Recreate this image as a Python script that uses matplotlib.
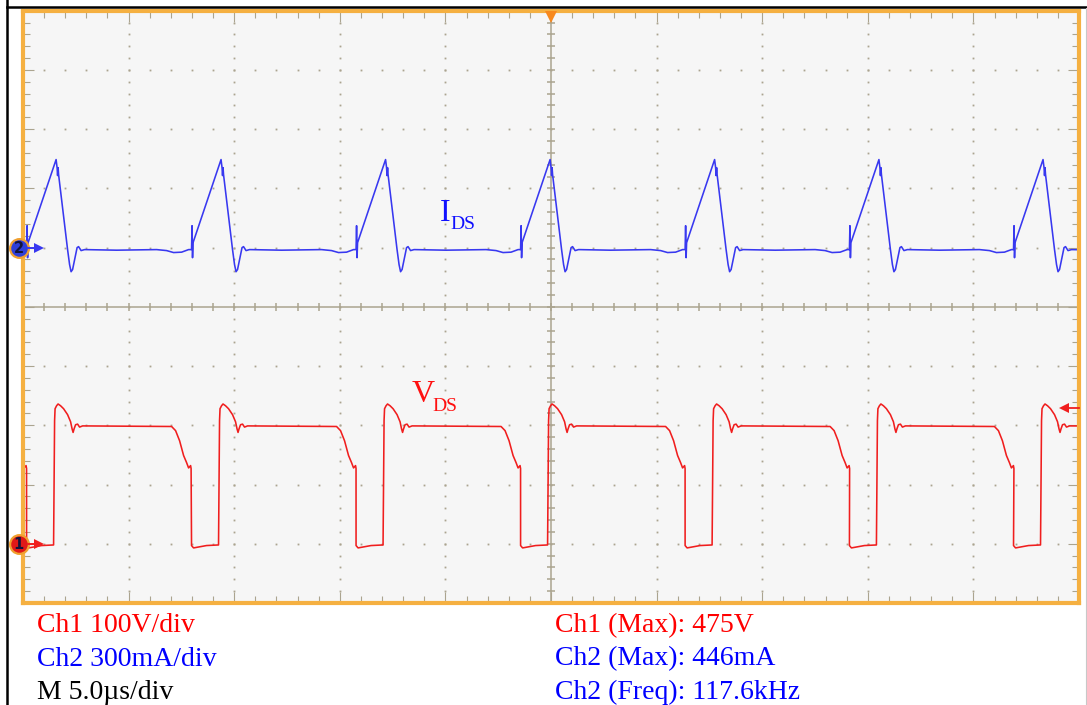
import numpy as np
import matplotlib.pyplot as plt
from matplotlib.lines import Line2D

# switching instants (V_DS falling edge / start of current ramp), microseconds
turn_on_us = [-7.62, 0.17, 7.98, 15.77, 23.56, 31.35, 39.13, 46.90]

# drain current over one period: time after turn-on (us) and current (mA)
ids_t_us = [0.000, 0.024, 0.047, 0.071, 1.397, 1.444, 1.468, 1.492, 1.515,
            1.941, 2.036, 2.107, 2.178, 2.296, 2.391, 2.462, 2.581, 2.746,
            4.262, 6.156, 6.629, 6.960, 7.339, 7.671]
ids_ma = [-10, 111, -51, 25, 446, 405, 365, 405, 370,
          -10, -86, -122, -111, -51, 0, 5, -15, -10,
          -13, -10, -15, -25, -23, -10]

# drain-source voltage over one period: time after turn-on (us), divisions above ch1 ground
vds_t_us = [0.000, 0.095, 0.710, 1.278, 1.326, 1.349, 1.420, 1.491, 1.610,
            1.752, 1.941, 2.083, 2.154, 2.202, 2.249, 2.320, 2.415, 2.509,
            2.652, 6.866, 7.055, 7.244, 7.434, 7.576, 7.671, 7.765, 7.789]
vds_div = [-0.03, -0.07, -0.03, -0.02, 2.08, 2.28, 2.33, 2.36, 2.33,
           2.28, 2.18, 2.06, 1.94, 1.88, 1.94, 2.01, 2.02, 1.97,
           1.99, 1.98, 1.91, 1.74, 1.49, 1.37, 1.28, 1.32, 1.27]

ch1_ground_div = -4
ch2_ground_div = 1
ch2_ma_per_div = 300

left_readouts = ["Ch1 100V/div", "Ch2 300mA/div", "M 5.0\u00b5s/div"]
right_readouts = ["Ch1 (Max): 475V", "Ch2 (Max): 446mA", "Ch2 (Freq): 117.6kHz"]
left_colors = ["#ff0000", "#0000ff", "#000000"]
right_colors = ["#ff0000", "#0000ff", "#0000ff"]

GRID = "#aba48f"
ORANGE = "#f5b041"
BLUE = "#3838f0"
RED = "#f01e1e"

plt.rcParams["font.family"] = ["Liberation Serif", "DejaVu Serif"]

fig = plt.figure(figsize=(10.87, 7.05), dpi=100)
fig.patch.set_facecolor("white")
ax = fig.add_axes([23 / 1087, 1 - 603 / 705, 1056 / 1087, 592.3 / 705])
ax.set_facecolor("#f6f6f6")
ax.set_xlim(0, 50)
ax.set_ylim(-5, 5)

# graticule: border ticks
ax.set_xticks(np.arange(0, 51, 5))
ax.set_xticks(np.arange(0, 51, 1), minor=True)
ax.set_yticks(np.arange(-5, 6, 1))
ax.set_yticks(np.arange(-5, 5.01, 0.2), minor=True)
ax.tick_params(which="both", direction="in", top=True, right=True,
               labelbottom=False, labelleft=False, color=GRID, width=0.8)
ax.tick_params(which="major", length=8)
ax.tick_params(which="minor", length=5)
for sp in ax.spines.values():
    sp.set_color(ORANGE)
    sp.set_linewidth(3)
    sp.set_zorder(6)

# dotted division lines
for yv in range(-4, 5):
    if yv == 0:
        continue
    xs = np.arange(1, 50, 1)
    ax.plot(xs, np.full_like(xs, yv, dtype=float), ls="none", marker="s",
            ms=1.3, mew=0, color=GRID, zorder=1)
for xv in range(5, 50, 5):
    if xv == 25:
        continue
    ys = np.arange(-4.8, 4.81, 0.2)
    ax.plot(np.full_like(ys, xv), ys, ls="none", marker="s",
            ms=1.3, mew=0, color=GRID, zorder=1)

# centre cross with its own ticks
ax.axvline(25, color=GRID, lw=1.1, zorder=1)
ax.axhline(0, color=GRID, lw=1.1, zorder=1)
cy = np.arange(-4.8, 4.81, 0.2)
ax.plot(np.full_like(cy, 25), cy, ls="none", marker="_", ms=6, mew=1.1, color=GRID, zorder=1)
cx = np.arange(1, 50, 1)
ax.plot(cx, np.zeros_like(cx, dtype=float), ls="none", marker="|", ms=6, mew=1.1, color=GRID, zorder=1)

# traces
t_ids = np.concatenate([t0 + np.array(ids_t_us) for t0 in turn_on_us])
y_ids = np.concatenate([ch2_ground_div + np.array(ids_ma) / ch2_ma_per_div for _ in turn_on_us])
t_vds = np.concatenate([t0 + np.array(vds_t_us) for t0 in turn_on_us])
y_vds = np.concatenate([ch1_ground_div + np.array(vds_div) for _ in turn_on_us])
ax.plot(t_ids, y_ids, color=BLUE, lw=1.15, zorder=4)
ax.plot(t_vds, y_vds, color=RED, lw=1.15, zorder=4)

# trace names
ax.text(19.75, 1.45, "I", color="#1010ff", fontsize=23, va="baseline", ha="left")
ax.text(20.25, 1.31, "DS", color="#1010ff", fontsize=14, va="baseline", ha="left")
ax.text(18.4, -1.61, "V", color="#ff1010", fontsize=23, va="baseline", ha="left")
ax.text(19.4, -1.75, "DS", color="#ff1010", fontsize=14, va="baseline", ha="left")

# channel ground markers
for gnd, face, label in [(ch2_ground_div, "#2f3fd8", "2"), (ch1_ground_div, "#e01818", "1")]:
    ax.plot([-0.2], [gnd], marker="o", ms=13.5, mfc=face, mec="#f0a030", mew=1.6,
            clip_on=False, zorder=8)
    ax.text(-0.2, gnd - 0.01, label, color="#14143c", fontsize=10.5, fontweight="bold",
            fontfamily="DejaVu Sans", ha="center", va="center", clip_on=False, zorder=9)
    col = BLUE if label == "2" else RED
    ax.plot([0.25, 0.66], [gnd, gnd], color=col, lw=1.4, clip_on=False, zorder=8)
    ax.plot([0.76], [gnd], marker=">", ms=6.5, color=col, mew=0, clip_on=False, zorder=8)

# trigger position and trigger level markers
ax.plot([25], [4.89], marker="v", ms=8.5, color="#f7891e", mew=0, zorder=7, clip_on=False)
ax.plot([49.45, 50], [-1.71, -1.71], color=RED, lw=1.3, zorder=7, clip_on=False)
ax.plot([49.3], [-1.71], marker="<", ms=7.5, color=RED, mew=0, zorder=7, clip_on=False)

# readouts under the screen
for i, (txt, col) in enumerate(zip(left_readouts, left_colors)):
    fig.text(37 / 1087, 1 - (632 + 33.5 * i) / 705, txt, color=col, fontsize=20, va="baseline")
for i, (txt, col) in enumerate(zip(right_readouts, right_colors)):
    fig.text(555 / 1087, 1 - (632 + 33.5 * i) / 705, txt, color=col, fontsize=20, va="baseline")

# page frame lines
fig.add_artist(Line2D([6.5 / 1087, 6.5 / 1087], [0, 1], color="black", lw=1.8))
fig.add_artist(Line2D([6.5 / 1087, 1], [1 - 7 / 705, 1 - 7 / 705], color="black", lw=1.8))
fig.add_artist(Line2D([1086 / 1087, 1086 / 1087], [0, 1 - 8 / 705], color="#c8c8c8", lw=0.8))

fig.savefig("out.png", dpi=100)
